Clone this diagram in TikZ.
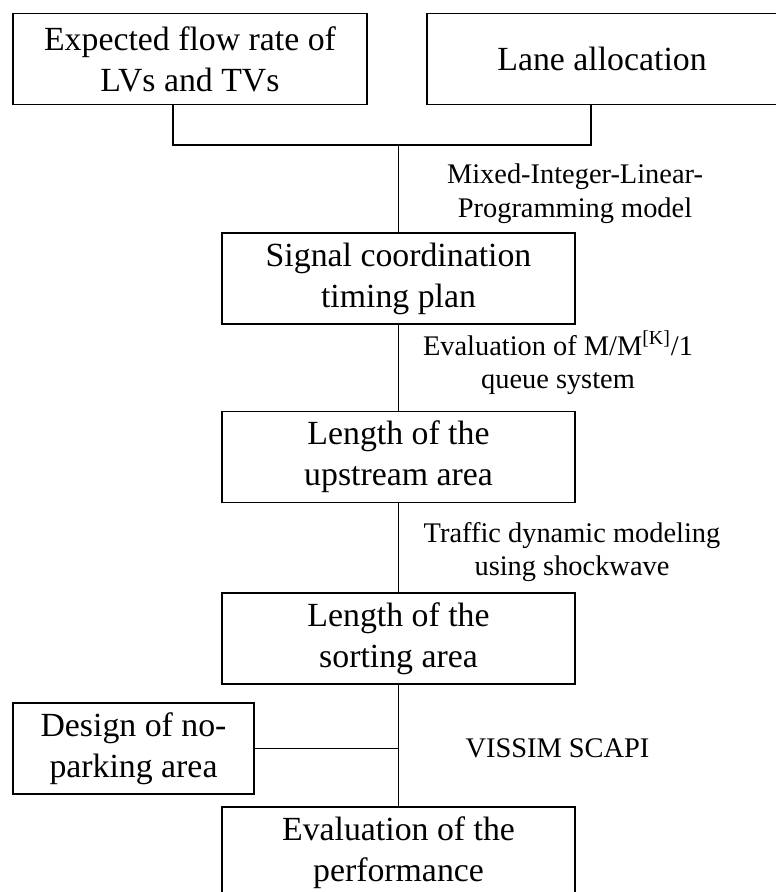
\documentclass[tikz,border=0pt]{standalone}
\usepackage{fontspec}
\setmainfont{Liberation Serif}

\begin{document}
\begin{tikzpicture}[x=0.5pt, y=-0.5pt, line width=0.95pt, stage/.style={draw, minimum width=176.5pt, minimum height=45.5pt, inner sep=0pt, align=center, font=\fontsize{16.9}{20.5}\selectfont}, method/.style={inner sep=0pt, align=center, font=\fontsize{14.2}{16.75}\selectfont}]
\useasboundingbox (0,0) rectangle (775,892);
\node[stage, minimum width=177pt] (flow) at (190,59) {Expected flow rate of\\LVs and TVs};
\node[stage, minimum width=175pt] (lane) at (602,59) {Lane allocation};
\node[stage] (signal) at (398.5,278.5) {Signal coordination\\timing plan};
\node[stage] (upstream) at (398.5,457) {Length of the\\upstream area};
\node[stage] (sorting) at (398.5,638.5) {Length of the\\sorting area};
\node[stage, minimum width=120.5pt] (nopark) at (133.5,748.5) {Design of no-\\parking area};
\node[stage] (perf) at (398.5,852.5) {Evaluation of the\\performance};
\coordinate (merge) at (398.5,145);
\node[method] (milp) at (575,193.5) {Mixed-Integer-Linear-\\Programming model};
\node[method] (queue) at (558,363) {Evaluation of M/M\textsuperscript{[K]}/1\\queue system};
\node[method] (shock) at (572,552) {Traffic dynamic modeling\\using shockwave};
\node[method] (vissim) at (557.5,748) {VISSIM SCAPI};
\draw ([xshift=-8.5pt]flow.south) |- (merge) -| ([xshift=-5.5pt]lane.south);
\draw (merge) -- (signal);
\draw (signal) -- (upstream);
\draw (upstream) -- (sorting);
\draw (sorting) -- (perf);
\draw (nopark) -- (nopark -| sorting);
\end{tikzpicture}
\end{document}
